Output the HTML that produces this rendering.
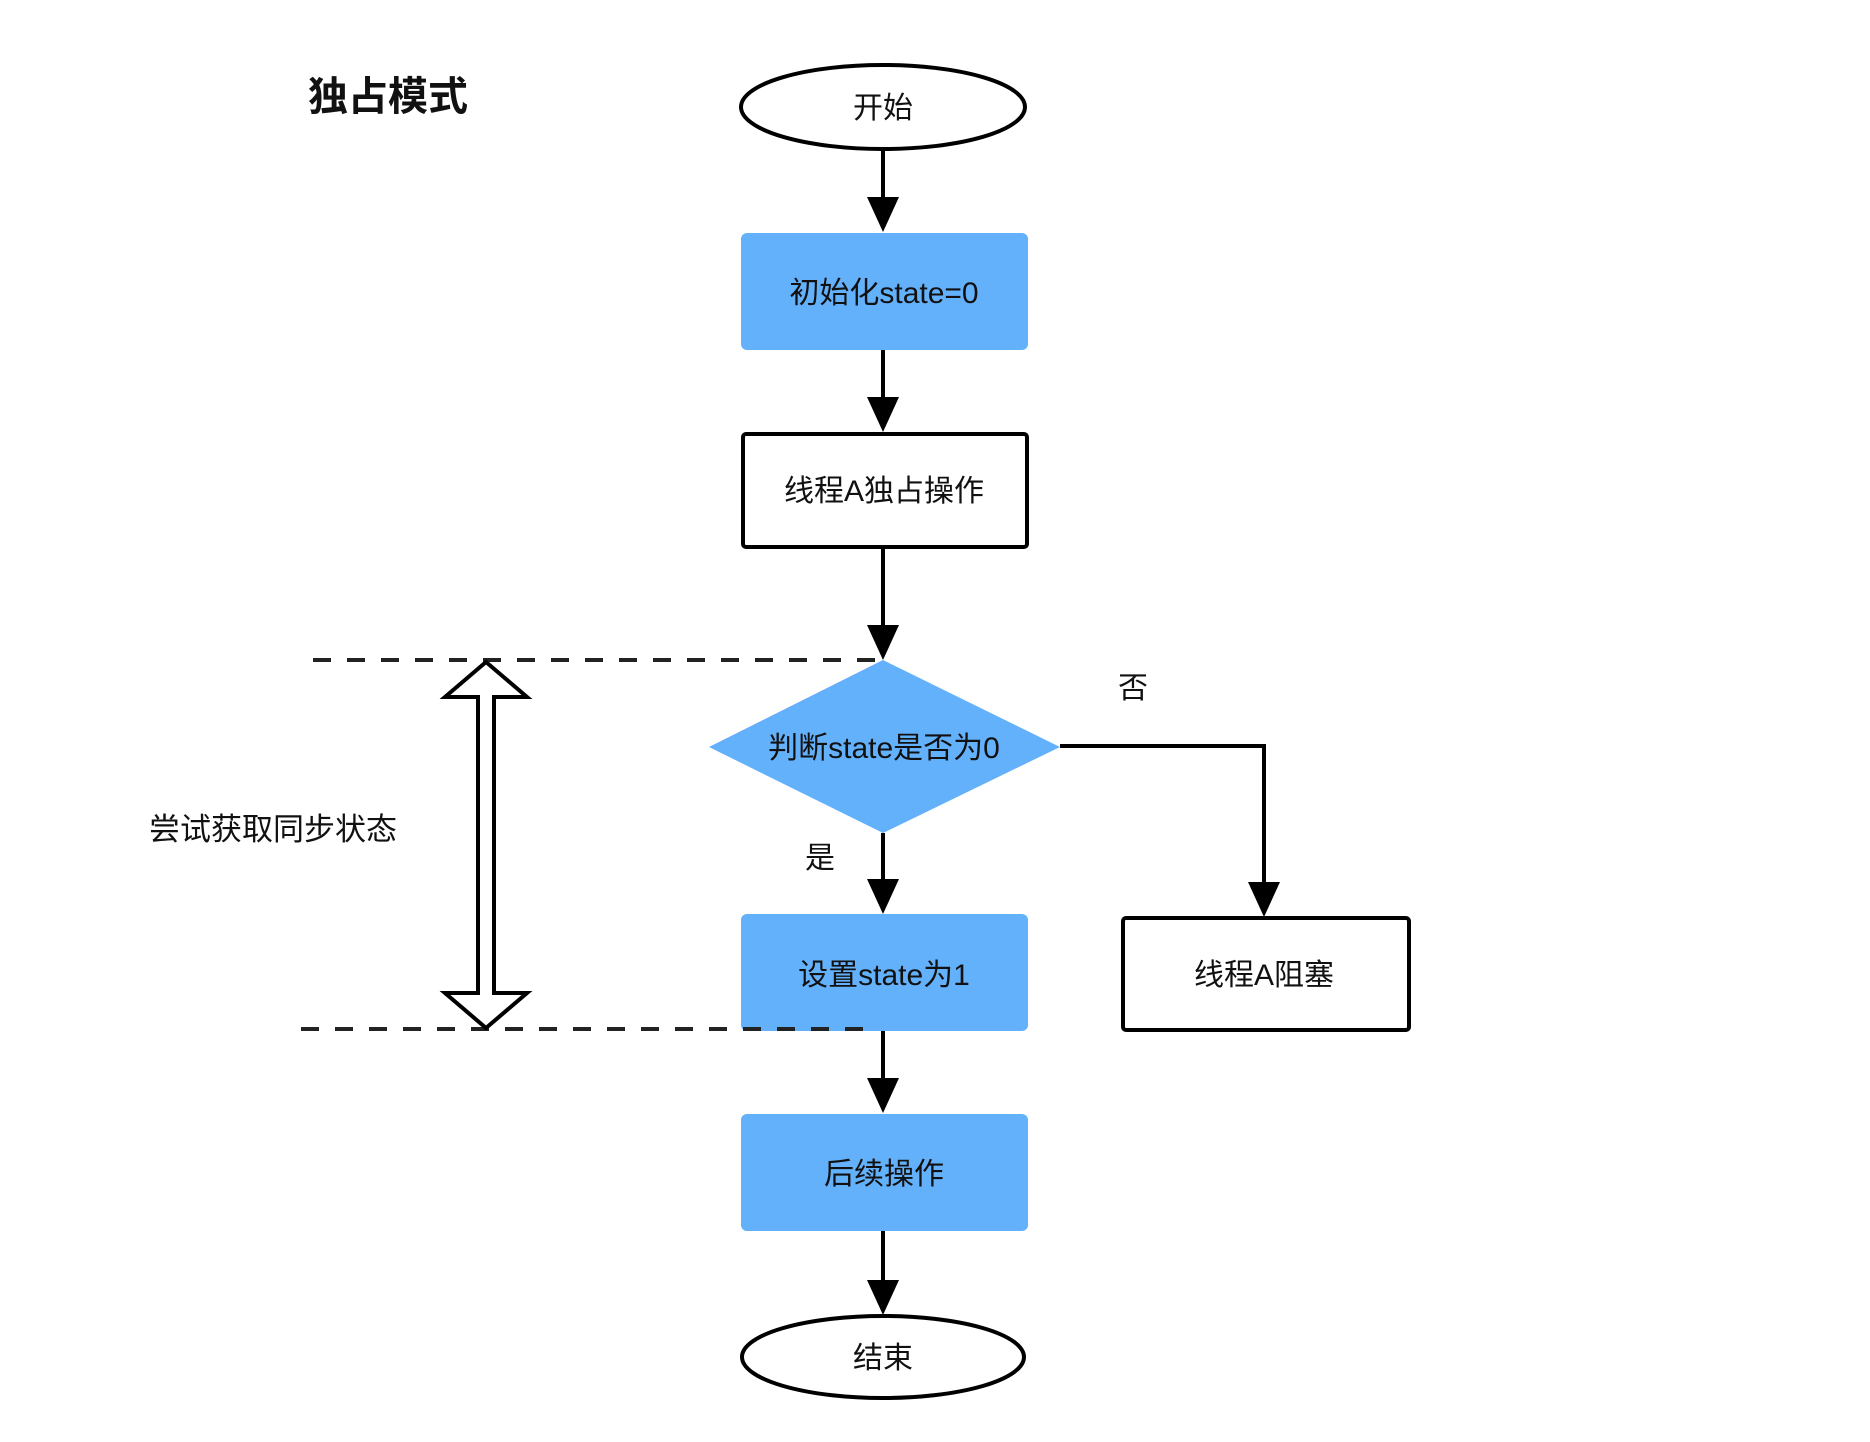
<!DOCTYPE html>
<html><head><meta charset="utf-8"><style>
html,body{margin:0;padding:0;background:#fff;}
svg{display:block;}
text{font-family:"Liberation Sans","Noto Sans CJK SC",sans-serif;fill:#111;}
</style></head><body>
<svg width="1870" height="1442" viewBox="0 0 1870 1442" xmlns="http://www.w3.org/2000/svg">
<defs>
<marker id="ah" markerWidth="10" markerHeight="10" refX="9" refY="5" orient="auto" markerUnits="userSpaceOnUse" viewBox="0 0 10 10">
</marker>
</defs>
<text x="308" y="110" font-size="40" font-weight="bold">独占模式</text>

<!-- start ellipse -->
<ellipse cx="883" cy="107" rx="142" ry="42" fill="#fff" stroke="#000" stroke-width="4"/>
<text x="883" y="118" font-size="30" text-anchor="middle">开始</text>

<!-- arrows -->
<g stroke="#000" stroke-width="4" fill="none">
<line x1="883" y1="149" x2="883" y2="210"/>
<line x1="883" y1="350" x2="883" y2="410"/>
<line x1="883" y1="547" x2="883" y2="638"/>
<line x1="883" y1="833" x2="883" y2="892"/>
<line x1="883" y1="1030" x2="883" y2="1092"/>
<line x1="883" y1="1231" x2="883" y2="1293"/>
<polyline points="1060,746 1264,746 1264,895"/>
</g>
<g fill="#000">
<polygon points="867,197 899,197 883,232"/>
<polygon points="867,397 899,397 883,432"/>
<polygon points="867,625 899,625 883,660"/>
<polygon points="867,879 899,879 883,914"/>
<polygon points="867,1078 899,1078 883,1113"/>
<polygon points="867,1280 899,1280 883,1315"/>
<polygon points="1248,882 1280,882 1264,917"/>
</g>

<!-- boxes -->
<rect x="741" y="233" width="287" height="117" rx="6" fill="#64b1fb"/>
<text x="884" y="303" font-size="30" text-anchor="middle">初始化state=0</text>

<rect x="743" y="434" width="284" height="113" rx="3" fill="#fff" stroke="#000" stroke-width="4"/>
<text x="884" y="501" font-size="30" text-anchor="middle">线程A独占操作</text>

<polygon points="709,747 883,660 1060,747 883,833" fill="#64b1fb"/>
<text x="884" y="758" font-size="30" text-anchor="middle">判断state是否为0</text>

<rect x="741" y="914" width="287" height="117" rx="6" fill="#64b1fb"/>
<text x="884" y="985" font-size="30" text-anchor="middle">设置state为1</text>

<rect x="1123" y="918" width="286" height="112" rx="3" fill="#fff" stroke="#000" stroke-width="4"/>
<text x="1264" y="985" font-size="30" text-anchor="middle">线程A阻塞</text>

<rect x="741" y="1114" width="287" height="117" rx="6" fill="#64b1fb"/>
<text x="884" y="1184" font-size="30" text-anchor="middle">后续操作</text>

<ellipse cx="883" cy="1357" rx="141" ry="41" fill="#fff" stroke="#000" stroke-width="4"/>
<text x="883" y="1368" font-size="30" text-anchor="middle">结束</text>

<text x="1133" y="698" font-size="30" text-anchor="middle">否</text>
<text x="820" y="868" font-size="30" text-anchor="middle">是</text>
<text x="149" y="840" font-size="31">尝试获取同步状态</text>

<!-- dashed lines -->
<g stroke="#222" stroke-width="4" stroke-dasharray="18,16" fill="none">
<line x1="313" y1="660" x2="884" y2="660"/>
<line x1="301" y1="1029" x2="870" y2="1029"/>
</g>

<!-- double arrow -->
<polygon points="486,662 527,697 494,697 494,993 527,993 486,1028 445,993 478,993 478,697 445,697" fill="#fff" stroke="#000" stroke-width="4" stroke-linejoin="miter"/>
</svg>
</body></html>
